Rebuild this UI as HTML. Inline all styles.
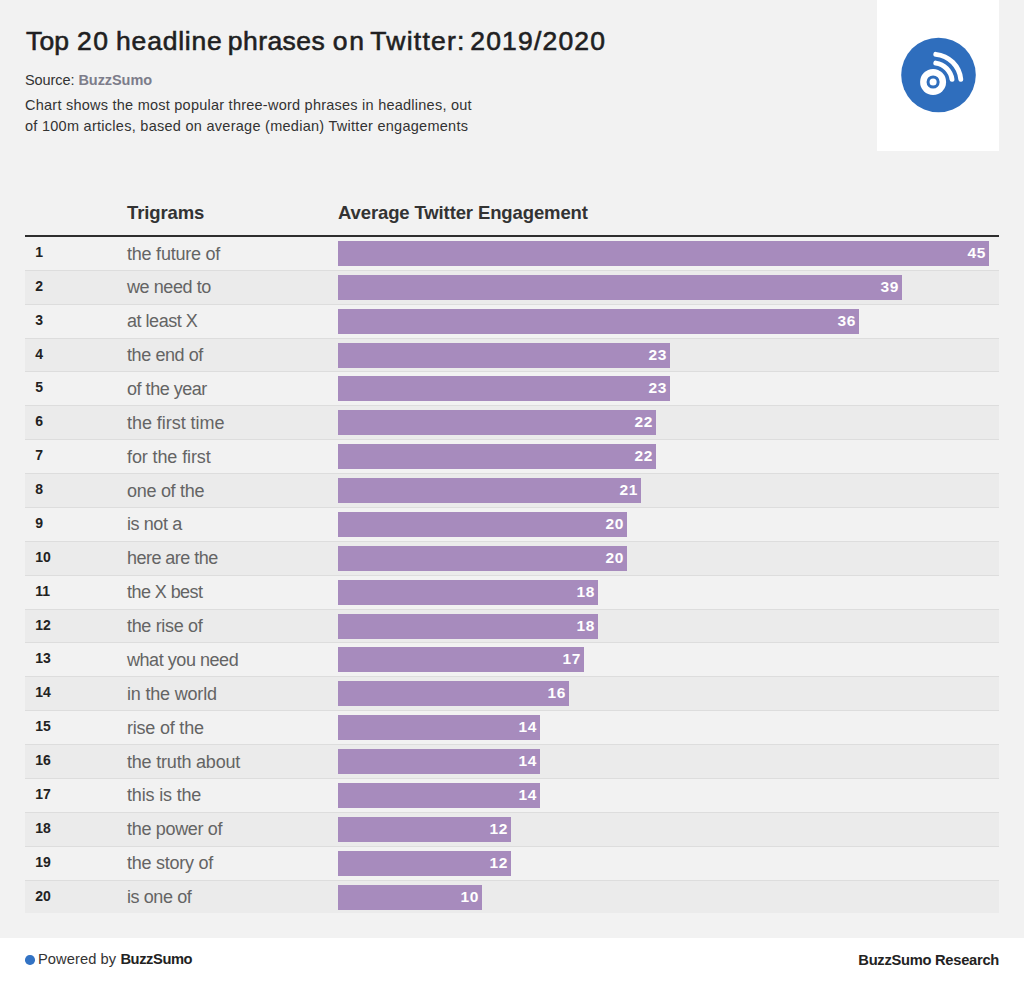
<!DOCTYPE html>
<html><head><meta charset="utf-8"><style>
*{margin:0;padding:0;box-sizing:border-box}
html,body{width:1024px;height:981px;overflow:hidden;background:#f2f2f2;font-family:"Liberation Sans",sans-serif}
.a{position:absolute;white-space:nowrap;line-height:1}
.t{top:27.6px;font-size:26.5px;font-weight:normal;-webkit-text-stroke:0.6px #1f1f22;color:#1f1f22}
.src{left:25px;top:72.5px;font-size:14.5px;letter-spacing:-0.07px;color:#333}
.src b{color:#7d7d8a}
.sub{left:25px;top:95.3px;font-size:14.5px;letter-spacing:0.22px;color:#333;line-height:20.8px}
.logo{left:877px;top:0;width:122px;height:150.6px;background:#fff}
.th{font-size:18.5px;font-weight:bold;letter-spacing:-0.12px;color:#333;top:203.5px}
.hl{left:25px;top:235px;width:974px;height:2px;background:#2e2e2e}
.row{position:absolute;left:25px;width:974px}
.num{position:absolute;left:10.3px;font-size:14px;font-weight:bold;color:#222}
.tri{position:absolute;left:102px;font-size:18px;letter-spacing:-0.3px;color:#646464}
.bar{position:absolute;left:313px;background:#a78bbd;height:25px}
.val{position:absolute;right:3px;letter-spacing:0.6px;font-size:15.5px;font-weight:bold;color:#fff;top:4px;line-height:1}
.foot{left:0;top:938px;width:1024px;height:43px;background:#fff}
.fl{left:38px;top:952px;font-size:14.7px;letter-spacing:0.07px;color:#333}
.fl b{color:#222;letter-spacing:-0.42px}
.fr{right:25px;top:952.8px;font-size:14.7px;letter-spacing:-0.27px;font-weight:bold;color:#222}
.dot{left:25.2px;top:955.2px;width:9.5px;height:9.5px;border-radius:50%;background:#3373c4}
</style></head><body>
<div class="a t" style="left:26.0px;letter-spacing:0.15px">Top</div><div class="a t" style="left:77.1px;letter-spacing:1.4px">20</div><div class="a t" style="left:116.1px;letter-spacing:0.786px">headline</div><div class="a t" style="left:227.8px;letter-spacing:0.433px">phrases</div><div class="a t" style="left:332.75px;letter-spacing:1.75px">on</div><div class="a t" style="left:370.3px;letter-spacing:1.243px">Twitter:</div><div class="a t" style="left:470.25px;letter-spacing:1.181px">2019/2020</div>
<div class="a src">Source: <b>BuzzSumo</b></div>
<div class="a sub" style="letter-spacing:0.24px">Chart shows the most popular three-word phrases in headlines, out</div><div class="a sub" style="top:116.1px;letter-spacing:0.272px">of 100m articles, based on average (median) Twitter engagements</div>
<div class="a logo"></div>
<svg class="a" style="left:896px;top:33px" width="86" height="84" viewBox="896 33 86 84">
<circle cx="938.5" cy="75" r="37.3" fill="#2f6ebd"/>
<circle cx="933.1" cy="82" r="13" fill="#fff"/>
<circle cx="933.1" cy="82" r="5.05" fill="none" stroke="#2f6ebd" stroke-width="3.0"/>
<path d="M935.76 54.33 A27.8 27.8 0 0 1 960.77 79.34" fill="none" stroke="#fff" stroke-width="4.9" stroke-linecap="round"/>
<path d="M935.76 63.09 A19.1 19.1 0 0 1 952.01 79.34" fill="none" stroke="#fff" stroke-width="4.9" stroke-linecap="round"/>
</svg>
<div class="a th" style="left:127px">Trigrams</div>
<div class="a th" style="left:338px">Average Twitter Engagement</div>
<div class="a hl"></div>
<div class="row" style="top:237.00px;height:33.87px;background:transparent;border-bottom:1px solid #dddddd;"><div class="num" style="top:7px">1</div><div class="tri" style="top:6.5px;letter-spacing:-0.225px">the future of</div><div class="bar" style="top:4px;width:651.00px"><span class="val">45</span></div></div><div class="row" style="top:270.87px;height:33.87px;background:#ebebeb;border-bottom:1px solid #dddddd;"><div class="num" style="top:7px">2</div><div class="tri" style="top:6.5px;letter-spacing:-0.422px">we need to</div><div class="bar" style="top:4px;width:564.00px"><span class="val">39</span></div></div><div class="row" style="top:304.74px;height:33.87px;background:transparent;border-bottom:1px solid #dddddd;"><div class="num" style="top:7px">3</div><div class="tri" style="top:6.5px;letter-spacing:-0.478px">at least X</div><div class="bar" style="top:4px;width:521.00px"><span class="val">36</span></div></div><div class="row" style="top:338.61px;height:33.87px;background:#ebebeb;border-bottom:1px solid #dddddd;"><div class="num" style="top:7px">4</div><div class="tri" style="top:6.5px;letter-spacing:-0.411px">the end of</div><div class="bar" style="top:4px;width:332.00px"><span class="val">23</span></div></div><div class="row" style="top:372.48px;height:33.87px;background:transparent;border-bottom:1px solid #dddddd;"><div class="num" style="top:7px">5</div><div class="tri" style="top:6.5px;letter-spacing:-0.47px">of the year</div><div class="bar" style="top:4px;width:332.00px"><span class="val">23</span></div></div><div class="row" style="top:406.35px;height:33.87px;background:#ebebeb;border-bottom:1px solid #dddddd;"><div class="num" style="top:7px">6</div><div class="tri" style="top:6.5px;letter-spacing:-0.046px">the first time</div><div class="bar" style="top:4px;width:318.00px"><span class="val">22</span></div></div><div class="row" style="top:440.22px;height:33.87px;background:transparent;border-bottom:1px solid #dddddd;"><div class="num" style="top:7px">7</div><div class="tri" style="top:6.5px;letter-spacing:-0.108px">for the first</div><div class="bar" style="top:4px;width:318.00px"><span class="val">22</span></div></div><div class="row" style="top:474.09px;height:33.87px;background:#ebebeb;border-bottom:1px solid #dddddd;"><div class="num" style="top:7px">8</div><div class="tri" style="top:6.5px;letter-spacing:-0.289px">one of the</div><div class="bar" style="top:4px;width:303.00px"><span class="val">21</span></div></div><div class="row" style="top:507.96px;height:33.87px;background:transparent;border-bottom:1px solid #dddddd;"><div class="num" style="top:7px">9</div><div class="tri" style="top:6.5px;letter-spacing:-0.414px">is not a</div><div class="bar" style="top:4px;width:289.00px"><span class="val">20</span></div></div><div class="row" style="top:541.83px;height:33.87px;background:#ebebeb;border-bottom:1px solid #dddddd;"><div class="num" style="top:7px">10</div><div class="tri" style="top:6.5px;letter-spacing:-0.536px">here are the</div><div class="bar" style="top:4px;width:289.00px"><span class="val">20</span></div></div><div class="row" style="top:575.70px;height:33.87px;background:transparent;border-bottom:1px solid #dddddd;"><div class="num" style="top:7px">11</div><div class="tri" style="top:6.5px;letter-spacing:-0.567px">the X best</div><div class="bar" style="top:4px;width:260.00px"><span class="val">18</span></div></div><div class="row" style="top:609.57px;height:33.87px;background:#ebebeb;border-bottom:1px solid #dddddd;"><div class="num" style="top:7px">12</div><div class="tri" style="top:6.5px;letter-spacing:-0.34px">the rise of</div><div class="bar" style="top:4px;width:260.00px"><span class="val">18</span></div></div><div class="row" style="top:643.44px;height:33.87px;background:transparent;border-bottom:1px solid #dddddd;"><div class="num" style="top:7px">13</div><div class="tri" style="top:6.5px;letter-spacing:-0.45px">what you need</div><div class="bar" style="top:4px;width:246.00px"><span class="val">17</span></div></div><div class="row" style="top:677.31px;height:33.87px;background:#ebebeb;border-bottom:1px solid #dddddd;"><div class="num" style="top:7px">14</div><div class="tri" style="top:6.5px;letter-spacing:-0.191px">in the world</div><div class="bar" style="top:4px;width:231.00px"><span class="val">16</span></div></div><div class="row" style="top:711.18px;height:33.87px;background:transparent;border-bottom:1px solid #dddddd;"><div class="num" style="top:7px">15</div><div class="tri" style="top:6.5px;letter-spacing:-0.21px">rise of the</div><div class="bar" style="top:4px;width:202.00px"><span class="val">14</span></div></div><div class="row" style="top:745.05px;height:33.87px;background:#ebebeb;border-bottom:1px solid #dddddd;"><div class="num" style="top:7px">16</div><div class="tri" style="top:6.5px;letter-spacing:-0.2px">the truth about</div><div class="bar" style="top:4px;width:202.00px"><span class="val">14</span></div></div><div class="row" style="top:778.92px;height:33.87px;background:transparent;border-bottom:1px solid #dddddd;"><div class="num" style="top:7px">17</div><div class="tri" style="top:6.5px;letter-spacing:-0.17px">this is the</div><div class="bar" style="top:4px;width:202.00px"><span class="val">14</span></div></div><div class="row" style="top:812.79px;height:33.87px;background:#ebebeb;border-bottom:1px solid #dddddd;"><div class="num" style="top:7px">18</div><div class="tri" style="top:6.5px;letter-spacing:-0.318px">the power of</div><div class="bar" style="top:4px;width:173.00px"><span class="val">12</span></div></div><div class="row" style="top:846.66px;height:33.87px;background:transparent;border-bottom:1px solid #dddddd;"><div class="num" style="top:7px">19</div><div class="tri" style="top:6.5px;letter-spacing:-0.245px">the story of</div><div class="bar" style="top:4px;width:173.00px"><span class="val">12</span></div></div><div class="row" style="top:880.53px;height:32.67px;background:#ebebeb;"><div class="num" style="top:7px">20</div><div class="tri" style="top:6.5px;letter-spacing:-0.413px">is one of</div><div class="bar" style="top:4px;width:144.00px"><span class="val">10</span></div></div>
<div class="a foot"></div>
<div class="a dot"></div>
<div class="a fl">Powered by <b>BuzzSumo</b></div>
<div class="a fr">BuzzSumo Research</div>
</body></html>
